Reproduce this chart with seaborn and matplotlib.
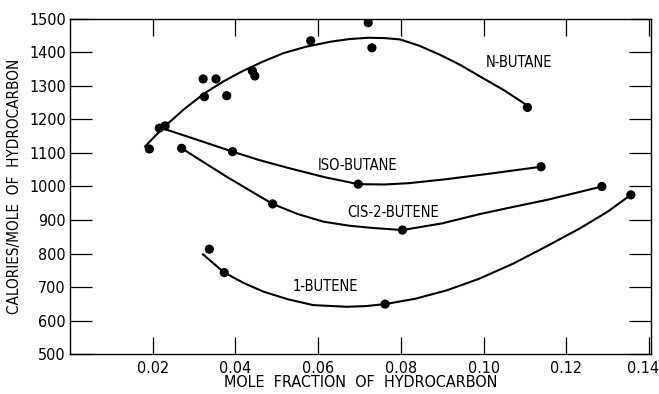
import matplotlib
matplotlib.use('Agg')
import matplotlib.pyplot as plt
import matplotlib.transforms as mtransforms
import seaborn as sns
import pandas as pd

# measured points
n_butane_x = [0.0192, 0.0216, 0.0230, 0.0322, 0.0325, 0.0353, 0.0379, 0.0441, 0.0447, 0.0582, 0.0721, 0.0730, 0.1106]
n_butane_y = [1112, 1174, 1181, 1321, 1268, 1321, 1271, 1345, 1330, 1435, 1489, 1414, 1236]
iso_butane_x = [0.0393, 0.0697, 0.1139]
iso_butane_y = [1104, 1007, 1059]
cis_butene_x = [0.0270, 0.0490, 0.0804, 0.1286]
cis_butene_y = [1114, 948, 870, 1000]
butene1_x = [0.0337, 0.0373, 0.0762, 0.1356]
butene1_y = [813, 743, 649, 975]

# hand drawn curves
n_butane_cx = [0.0181, 0.0226, 0.0275, 0.0325, 0.0370, 0.0415, 0.0465, 0.0516, 0.0570, 0.0629,
               0.0675, 0.0721, 0.0760, 0.0798, 0.0845, 0.0895, 0.0945, 0.0992, 0.1050, 0.1104]
n_butane_cy = [1119, 1176, 1230, 1278, 1313, 1343, 1372, 1398, 1417, 1432,
               1440, 1444, 1443, 1439, 1420, 1393, 1362, 1328, 1287, 1243]
iso_butane_cx = [0.0230, 0.0311, 0.0393, 0.0460, 0.0532, 0.0615, 0.0697, 0.0760, 0.0820, 0.0911, 0.1025, 0.1139]
iso_butane_cy = [1171, 1138, 1104, 1078, 1054, 1028, 1007, 1006, 1010, 1022, 1040, 1059]
cis_butene_cx = [0.0270, 0.0325, 0.0379, 0.0435, 0.0490, 0.0550, 0.0613, 0.0675, 0.0734, 0.0804,
                 0.0900, 0.0992, 0.1075, 0.1153, 0.1220, 0.1286]
cis_butene_cy = [1114, 1071, 1029, 988, 948, 918, 895, 883, 876, 870,
                 890, 918, 940, 960, 980, 1000]
butene1_cx = [0.0321, 0.0373, 0.0420, 0.0468, 0.0528, 0.0588, 0.0669, 0.0715, 0.0762, 0.0835,
              0.0911, 0.0990, 0.1072, 0.1150, 0.1233, 0.1300, 0.1356]
butene1_cy = [798, 743, 712, 686, 663, 646, 641, 643, 649, 665,
              690, 725, 770, 820, 875, 925, 975]

labels = ['N-BUTANE', 'ISO-BUTANE', 'CIS-2-BUTENE', '1-BUTENE']
label_x = [0.1086, 0.0695, 0.0781, 0.0617]
label_y = [1371, 1064, 921, 701]

x_ticks = [0.02, 0.04, 0.06, 0.08, 0.10, 0.12, 0.14]
x_ticklabels = ['0.02', '0.04', '0.06', '0.08', '0.10', '0.12', '0.14']
y_ticks = list(range(500, 1501, 100))

pts = pd.concat([
    pd.DataFrame({'x': n_butane_x, 'y': n_butane_y, 'series': 'n'}),
    pd.DataFrame({'x': iso_butane_x, 'y': iso_butane_y, 'series': 'iso'}),
    pd.DataFrame({'x': cis_butene_x, 'y': cis_butene_y, 'series': 'cis'}),
    pd.DataFrame({'x': butene1_x, 'y': butene1_y, 'series': '1b'}),
])
curves = pd.concat([
    pd.DataFrame({'x': n_butane_cx, 'y': n_butane_cy, 'series': 'n'}),
    pd.DataFrame({'x': iso_butane_cx, 'y': iso_butane_cy, 'series': 'iso'}),
    pd.DataFrame({'x': cis_butene_cx, 'y': cis_butene_cy, 'series': 'cis'}),
    pd.DataFrame({'x': butene1_cx, 'y': butene1_cy, 'series': '1b'}),
])

sns.set_style('ticks')
plt.rcParams['font.family'] = ['DejaVu Sans']
plt.rcParams['font.stretch'] = 'condensed'
plt.rcParams['text.color'] = 'black'
plt.rcParams['axes.labelcolor'] = 'black'

fig = plt.figure(figsize=(6.59, 3.94), dpi=100)
ax = fig.add_axes([0.1062, 0.1015, 0.8818, 0.8503])

sns.lineplot(data=curves, x='x', y='y', units='series', estimator=None, sort=False,
             color='black', linewidth=1.5, ax=ax)
sns.scatterplot(data=pts, x='x', y='y', color='black', s=44, edgecolor='none', ax=ax, zorder=3)

for t, lx, ly in zip(labels, label_x, label_y):
    ax.text(lx, ly, t, ha='center', va='center', fontsize=10.5, color='black')

ax.set_xlim(0, 0.1405)
ax.set_ylim(500, 1500)
ax.set_xticks(x_ticks)
ax.set_xticklabels(x_ticklabels)
ax.set_yticks(y_ticks)
ax.tick_params(axis='both', direction='in', labelsize=11.5, colors='black', width=0.9)
ax.tick_params(axis='y', length=16, pad=3, right=True)
ax.tick_params(axis='x', length=12, pad=5, top=True)
for s in ax.spines.values():
    s.set_visible(True)
    s.set_linewidth(1.0)
    s.set_color('black')

# last x label sits against the right edge, nudge it inside
last = ax.get_xticklabels()[-1]
last.set_transform(last.get_transform() + mtransforms.ScaledTranslation(-6 / 100, 0, fig.dpi_scale_trans))

ax.set_xlabel('MOLE  FRACTION  OF  HYDROCARBON', fontsize=11.5, labelpad=-1)
ax.set_ylabel('CALORIES/MOLE  OF  HYDROCARBON', fontsize=11, labelpad=5)

fig.savefig('out.png', dpi=100)
